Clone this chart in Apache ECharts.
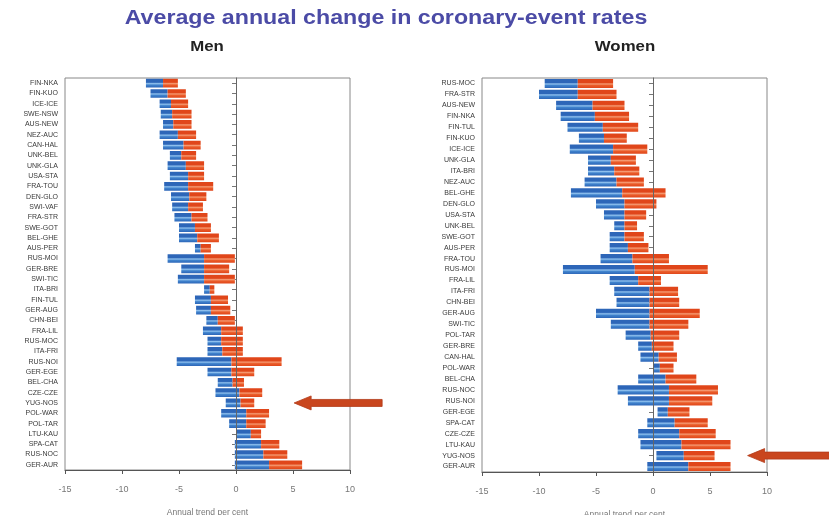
<!DOCTYPE html>
<html><head><meta charset="utf-8">
<script src="https://cdn.jsdelivr.net/npm/echarts@6/dist/echarts.min.js"></script>
<style>html,body{margin:0;padding:0;background:#fff}#c{width:829px;height:515px}</style>
</head><body><div id="c"></div>
<script>
const menCats = ['FIN-NKA','FIN-KUO','ICE-ICE','SWE-NSW','AUS-NEW','NEZ-AUC','CAN-HAL','UNK-BEL','UNK-GLA','USA-STA','FRA-TOU','DEN-GLO','SWI-VAF','FRA-STR','SWE-GOT','BEL-GHE','AUS-PER','RUS-MOI','GER-BRE','SWI-TIC','ITA-BRI','FIN-TUL','GER-AUG','CHN-BEI','FRA-LIL','RUS-MOC','ITA-FRI','RUS-NOI','GER-EGE','BEL-CHA','CZE-CZE','YUG-NOS','POL-WAR','POL-TAR','LTU-KAU','SPA-CAT','RUS-NOC','GER-AUR'];
const menLow  = [-7.9,-7.5,-6.7,-6.6,-6.4,-6.7,-6.4,-5.8,-6.0,-5.8,-6.3,-5.7,-5.6,-5.4,-5.0,-5.0,-3.6,-6.0,-4.8,-5.1,-2.8,-3.6,-3.5,-2.6,-2.9,-2.5,-2.5,-5.2,-2.5,-1.6,-1.8,-0.9,-1.3,-0.6,0.0,-0.1,-0.1,-0.1];
const menMid  = [-6.4,-6.0,-5.7,-5.6,-5.5,-5.1,-4.6,-4.8,-4.4,-4.2,-4.2,-4.1,-4.2,-3.9,-3.6,-3.4,-3.1,-2.8,-2.8,-2.8,-2.3,-2.2,-2.2,-1.6,-1.3,-1.3,-1.2,-0.4,-0.4,-0.3,0.3,0.4,0.9,0.9,1.3,2.2,2.4,2.9];
const menHigh = [-5.1,-4.4,-4.2,-3.9,-3.9,-3.5,-3.1,-3.5,-2.8,-2.8,-2.0,-2.6,-2.9,-2.5,-2.2,-1.5,-2.2,-0.1,-0.6,-0.1,-1.9,-0.7,-0.5,-0.1,0.6,0.6,0.6,4.0,1.6,0.7,2.3,1.6,2.9,2.6,2.2,3.8,4.5,5.8];

const womenCats = ['RUS-MOC','FRA-STR','AUS-NEW','FIN-NKA','FIN-TUL','FIN-KUO','ICE-ICE','UNK-GLA','ITA-BRI','NEZ-AUC','BEL-GHE','DEN-GLO','USA-STA','UNK-BEL','SWE-GOT','AUS-PER','FRA-TOU','RUS-MOI','FRA-LIL','ITA-FRI','CHN-BEI','GER-AUG','SWI-TIC','POL-TAR','GER-BRE','CAN-HAL','POL-WAR','BEL-CHA','RUS-NOC','RUS-NOI','GER-EGE','SPA-CAT','CZE-CZE','LTU-KAU','YUG-NOS','GER-AUR'];
const womenLow  = [-9.5,-10.0,-8.5,-8.1,-7.5,-6.5,-7.3,-5.7,-5.7,-6.0,-7.2,-5.0,-4.3,-3.4,-3.8,-3.8,-4.6,-7.9,-3.8,-3.4,-3.2,-5.0,-3.7,-2.4,-1.3,-1.1,0.0,-1.3,-3.1,-2.2,0.4,-0.5,-1.3,-1.1,0.3,-0.5];
const womenMid  = [-6.6,-6.6,-5.3,-5.1,-4.4,-4.3,-3.5,-3.7,-3.4,-3.2,-2.7,-2.5,-2.5,-2.5,-2.5,-2.2,-1.8,-1.6,-1.3,-0.3,-0.3,-0.3,-0.3,-0.2,-0.1,0.5,0.6,1.1,1.4,1.4,1.3,1.9,2.3,2.5,2.7,3.1];
const womenHigh = [-3.5,-3.2,-2.5,-2.1,-1.3,-2.3,-0.5,-1.5,-1.2,-0.8,1.1,0.3,-0.6,-1.4,-0.8,-0.4,1.4,4.8,0.7,2.2,2.3,4.1,3.1,2.3,1.8,2.1,1.8,3.8,5.7,5.2,3.2,4.8,5.5,6.8,5.4,6.8];

const xTicks = [-15,-10,-5,0,5,10];
const arrowMen = {cat:'YUG-NOS', x:5.1};
const arrowWomen = {cat:'YUG-NOS', x:8.3};

const chart = echarts.init(document.getElementById('c'), null, {renderer:'canvas'});

function grad(c1,c2,c3){
  return new echarts.graphic.LinearGradient(0,0,0,1,[
    {offset:0,color:c1},{offset:0.4,color:c1},{offset:0.55,color:c3},{offset:0.72,color:c2},{offset:1,color:c1}
  ]);
}
const blueFill = grad('#2d66b8','#3f82cc','#8ec0ee');
const redFill = grad('#e0461a','#ea5c2a','#f59a72');

function renderItem(params, api){
  const ci = api.value(0);
  const lo = api.coord([api.value(1), ci]);
  const mi = api.coord([api.value(2), ci]);
  const hi = api.coord([api.value(3), ci]);
  const band = api.size([0,1])[1];
  const h = band*0.84;
  const y = lo[1]-h/2;
  return {type:'group', children:[
    {type:'rect', shape:{x:lo[0], y:y, width:mi[0]-lo[0], height:h}, style:{fill:blueFill}},
    {type:'rect', shape:{x:mi[0], y:y, width:hi[0]-mi[0], height:h}, style:{fill:redFill}}
  ]};
}

function build(cats, lo, mi, hi){
  return cats.map((c,i)=>[i, lo[i], mi[i], hi[i]]);
}

function xAxisCfg(gi){
  return {
    type:'value', gridIndex:gi, min:-15, max:10, interval:5,
    axisLine:{show:true, onZero:false, lineStyle:{color:'#555'}},
    axisTick:{show:true, length:4, lineStyle:{color:'#555'}},
    axisLabel:{color:'#777', fontSize:9, margin:15, fontFamily:'Liberation Sans',
      formatter:v=> xTicks.indexOf(v)>=0 ? String(v) : ''},
    splitLine:{show:false},
    name:'Annual trend per cent', nameLocation:'middle', nameGap:38,
    nameTextStyle:{color:'#777', fontSize:8.5, fontFamily:'Liberation Sans'}
  };
}
function yAxisCfg(gi, cats){
  return {
    type:'category', gridIndex:gi, data:cats, inverse:true,
    axisLine:{show:true, lineStyle:{color:'#555'}},
    axisTick:{show:true, alignWithLabel:true, length:4, lineStyle:{color:'#777'}},
    axisLabel:{color:'#3a3a3a', fontSize:7, margin:7, interval:0, fontFamily:'Liberation Sans'},
    splitLine:{show:false}
  };
}
function series(gi, data){
  return {
    type:'custom', xAxisIndex:gi, yAxisIndex:gi, renderItem:renderItem, data:data,
    encode:{x:[1,2,3], y:0}, silent:true, clip:true,
    markLine:{silent:true, symbol:['none','none'], label:{show:false},
      lineStyle:{color:'#666', width:1, type:'solid'}, data:[{xAxis:0}]}
  };
}

chart.setOption({
  animation:false,
  backgroundColor:'#fff',
  grid:[
    {left:65, right:479, top:78, bottom:45, show:true, borderColor:'#888', borderWidth:1, backgroundColor:'transparent', outerBoundsMode:'none', containLabel:false},
    {left:482, right:62, top:78, bottom:43, show:true, borderColor:'#888', borderWidth:1, backgroundColor:'transparent', outerBoundsMode:'none', containLabel:false}
  ],
  xAxis:[xAxisCfg(0), xAxisCfg(1)],
  yAxis:[yAxisCfg(0, menCats), yAxisCfg(1, womenCats)],
  series:[
    series(0, build(menCats, menLow, menMid, menHigh)),
    series(1, build(womenCats, womenLow, womenMid, womenHigh))
  ],
  graphic:[
    {id:'t0', type:'text', x:386, y:18, scaleX:1.16, style:{text:'Average annual change in coronary-event rates', fill:'#4b4ba6',
      font:'bold 20px "Liberation Sans", Arial, sans-serif', textAlign:'center', textVerticalAlign:'middle'}},
    {id:'t1', type:'text', x:207, y:47, scaleX:1.2, style:{text:'Men', fill:'#222',
      font:'bold 14px "Liberation Sans", Arial, sans-serif', textAlign:'center', textVerticalAlign:'middle'}},
    {id:'t2', type:'text', x:625, y:47, scaleX:1.2, style:{text:'Women', fill:'#222',
      font:'bold 14px "Liberation Sans", Arial, sans-serif', textAlign:'center', textVerticalAlign:'middle'}}
  ]
});

function arrowPts(tx, ty, tailX){
  return [[tx,ty],[tx+17,ty-7],[tx+17,ty-3.5],[tailX,ty-3.5],[tailX,ty+3.5],[tx+17,ty+3.5],[tx+17,ty+7]];
}
const pm = chart.convertToPixel({seriesIndex:0}, [arrowMen.x, menCats.indexOf(arrowMen.cat)]);
const pw = chart.convertToPixel({seriesIndex:1}, [arrowWomen.x, womenCats.indexOf(arrowWomen.cat)]);
chart.setOption({graphic:[
  {id:'a0', type:'polygon', shape:{points:arrowPts(pm[0], pm[1], pm[0]+88)}, style:{fill:'#c9461e', stroke:'#b33a18', lineWidth:0.8}, z:100},
  {id:'a1', type:'polygon', shape:{points:arrowPts(pw[0], pw[1], 840)}, style:{fill:'#c9461e', stroke:'#b33a18', lineWidth:0.8}, z:100}
]});
</script>
</body></html>
